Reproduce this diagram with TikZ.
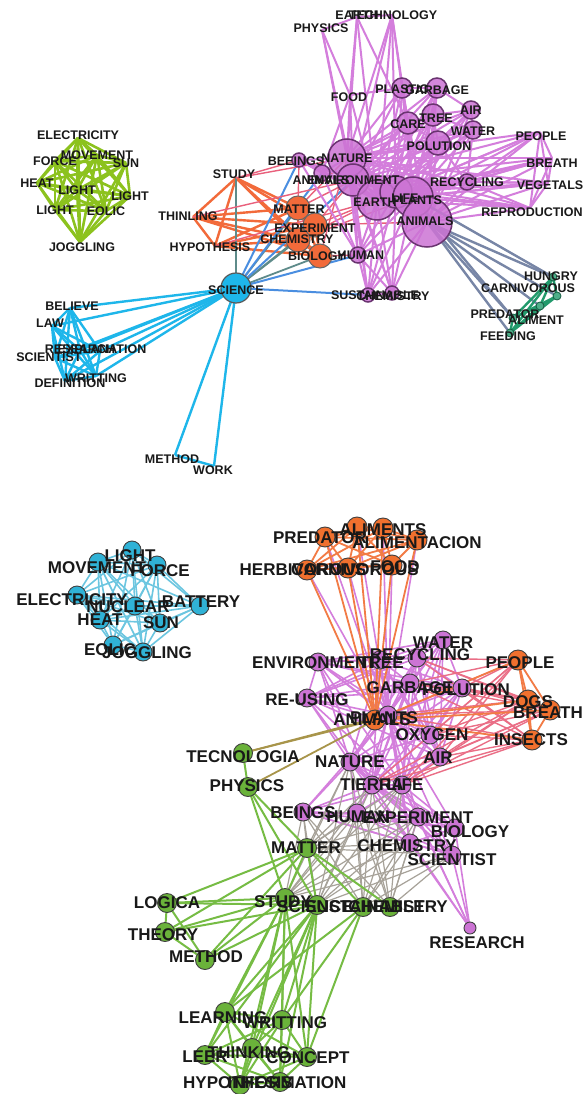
\documentclass[tikz,border=0pt]{standalone}
\usepackage{fontspec}
\setmainfont{Liberation Sans}
\definecolor{tgreen}{HTML}{8CC21E}
\definecolor{tcyan}{HTML}{1EB6EA}
\definecolor{torange}{HTML}{F26A3A}
\definecolor{tpurple}{HTML}{D47EDC}
\definecolor{pfill}{HTML}{CC74D4}
\definecolor{pdraw}{HTML}{6A3470}
\definecolor{dgreen}{HTML}{229A6C}
\definecolor{gblue}{HTML}{7886A6}
\definecolor{sblue}{HTML}{4A8EE0}
\definecolor{tealg}{HTML}{5E8B8A}
\definecolor{pinkred}{HTML}{E9607C}
\definecolor{bcyan}{HTML}{30B2D6}
\definecolor{bcyanE}{HTML}{6CC6E0}
\definecolor{borange}{HTML}{F0702E}
\definecolor{borangeE}{HTML}{F27B45}
\definecolor{bgreen}{HTML}{6AB23A}
\definecolor{bgreenE}{HTML}{76BC44}
\definecolor{bgray}{HTML}{A7A299}
\definecolor{olivee}{HTML}{A8954A}
\definecolor{bpink}{HTML}{EA6E86}
\newcommand\mkclique[3]{\foreach \i in {1,...,#2}{\foreach \j in {1,...,#2}{\ifnum\i<\j \draw[#3] (#1\i) -- (#1\j);\fi}}}
\begin{document}
\begin{tikzpicture}[x=1pt,y=-1pt,
  lt/.style={font=\bfseries\fontsize{12.5}{12.5}\selectfont, inner sep=0, text=black!90},
  lb/.style={font=\bfseries\fontsize{17}{17}\selectfont, inner sep=0, text=black!90},
  vc/.style={circle, inner sep=0, minimum size=#1},
  tpc/.style={vc=#1, fill=pfill, fill opacity=0.85, draw=pdraw, draw opacity=1, line width=1.5pt},
  toc/.style={vc=#1, fill=torange, draw=black!60, line width=1pt},
  tcc/.style={vc=#1, fill=tcyan, draw=black!65, line width=1.2pt},
  tkc/.style={vc=#1, fill=dgreen!80, draw=dgreen!60!black, line width=0.8pt},
  bcc/.style={vc=18pt, fill=bcyan, draw=black!75, line width=0.9pt},
  boc/.style={vc=20pt, fill=borange, draw=black!75, line width=0.9pt},
  bpc/.style={vc=18pt, fill=pfill, draw=black!75, line width=0.9pt},
  bgc/.style={vc=19pt, fill=bgreen, draw=black!75, line width=0.9pt},
  eTG/.style={draw=tgreen, line width=2.6pt},
  eTC/.style={draw=tcyan, line width=2.4pt},
  eTO/.style={draw=torange, line width=2.4pt},
  eTP/.style={draw=tpurple, line width=2pt},
  eDG/.style={draw=dgreen, line width=2.4pt},
  eGB/.style={draw=gblue, line width=2.4pt},
  eSB/.style={draw=sblue, line width=2pt},
  eTL/.style={draw=tealg, line width=1.8pt},
  ePR/.style={draw=pinkred, line width=1.4pt},
  eBC/.style={draw=bcyanE, line width=1.6pt},
  eBO/.style={draw=borangeE, line width=1.8pt},
  eBP/.style={draw=tpurple, line width=1.6pt},
  eBG/.style={draw=bgreenE, line width=2pt},
  eGR/.style={draw=bgray, line width=1.2pt},
  eOL/.style={draw=olivee, line width=1.8pt},
  eBK/.style={draw=bpink, line width=1.4pt}]
\fill[white] (0,0) rectangle (586,1094);
\useasboundingbox (0,0) rectangle (586,1094);
% ---------------- TOP coordinates
\coordinate (tg1) at (78,138); \coordinate (tg2) at (55,161); \coordinate (tg3) at (97,155);
\coordinate (tg4) at (126,163); \coordinate (tg5) at (37,183); \coordinate (tg6) at (77,190);
\coordinate (tg7) at (130,196); \coordinate (tg8) at (55,210); \coordinate (tg9) at (106,211);
\coordinate (tg10) at (80,242);
\coordinate (tSci) at (236,288);
\coordinate (tc1) at (70,308); \coordinate (tc2) at (52,326); \coordinate (tc3) at (100,351);
\coordinate (tc4) at (80,350); \coordinate (tc5) at (55,358); \coordinate (tc6) at (96,376);
\coordinate (tc7) at (65,381); \coordinate (tc8) at (175,455); \coordinate (tc9) at (214,466);
\coordinate (to1) at (236,178); \coordinate (to2) at (193,217); \coordinate (to3) at (215,246);
\coordinate (to4) at (298,208); \coordinate (to5) at (315,225); \coordinate (to6) at (298,240);
\coordinate (to7) at (320,256);
\coordinate (tp1) at (347,158); \coordinate (tp2) at (299,160); \coordinate (tp3) at (322,173);
\coordinate (tp4) at (353,180); \coordinate (tp5) at (377,200); \coordinate (tp6) at (396,192);
\coordinate (tp7) at (413,197); \coordinate (tp8) at (427,222); \coordinate (tp9) at (358,255);
\coordinate (tm1) at (402,88); \coordinate (tm2) at (437,88); \coordinate (tm3) at (471,110);
\coordinate (tm4) at (408,123); \coordinate (tm5) at (433,115); \coordinate (tm6) at (473,130);
\coordinate (tm7) at (438,143); \coordinate (tm8) at (467,182);
\coordinate (tu1) at (322,30); \coordinate (tu2) at (357,17); \coordinate (tu3) at (392,15);
\coordinate (tu4) at (350,95);
\coordinate (tr1) at (540,132); \coordinate (tr2) at (552,158); \coordinate (tr3) at (548,183);
\coordinate (tr4) at (530,208);
\coordinate (td1) at (368,295); \coordinate (td2) at (392,293);
\coordinate (tk1) at (553,277); \coordinate (tk2) at (557,296); \coordinate (tk3) at (540,306);
\coordinate (tk4) at (513,318); \coordinate (tk5) at (510,333);
% ---------------- BOTTOM coordinates
\coordinate (bc1) at (132,550); \coordinate (bc2) at (98,562); \coordinate (bc3) at (157,565);
\coordinate (bc4) at (77,595); \coordinate (bc5) at (135,606); \coordinate (bc6) at (200,606);
\coordinate (bc7) at (100,620); \coordinate (bc8) at (160,623); \coordinate (bc9) at (113,645);
\coordinate (bc10) at (143,652);
\coordinate (bo1) at (325,537); \coordinate (bo2) at (357,527); \coordinate (bo3) at (383,528);
\coordinate (bo4) at (417,540); \coordinate (bo5) at (307,570); \coordinate (bo6) at (348,568);
\coordinate (bo7) at (392,565);
\coordinate (bA) at (375,720);
\coordinate (br1) at (518,660); \coordinate (br2) at (528,700); \coordinate (br3) at (550,710);
\coordinate (br4) at (532,740);
\coordinate (bp1) at (318,662); \coordinate (bp2) at (380,660); \coordinate (bp3) at (417,658);
\coordinate (bp4) at (443,640); \coordinate (bp5) at (307,698); \coordinate (bp6) at (410,683);
\coordinate (bp7) at (462,688); \coordinate (bp8) at (388,715); \coordinate (bp9) at (430,735);
\coordinate (bp10) at (440,757); \coordinate (bp11) at (350,762); \coordinate (bp12) at (372,785);
\coordinate (bp13) at (402,785);
\coordinate (bq1) at (303,812); \coordinate (bq2) at (357,813); \coordinate (bq3) at (418,817);
\coordinate (bq4) at (455,828); \coordinate (bq5) at (410,843); \coordinate (bq6) at (452,855);
\coordinate (bRes) at (470,928);
\coordinate (bg1) at (243,753); \coordinate (bg2) at (248,787); \coordinate (bg3) at (307,848);
\coordinate (bg4) at (167,903); \coordinate (bg5) at (285,898); \coordinate (bg6) at (317,905);
\coordinate (bg7) at (363,907); \coordinate (bg8) at (390,907); \coordinate (bg9) at (165,932);
\coordinate (bg10) at (205,960);
\coordinate (bl1) at (225,1012); \coordinate (bl2) at (282,1020); \coordinate (bl3) at (205,1055);
\coordinate (bl4) at (252,1048); \coordinate (bl5) at (307,1057); \coordinate (bl6) at (240,1085);
\coordinate (bl7) at (280,1082);
% ================= TOP EDGES
\mkclique{tg}{10}{eTG}
\foreach \i in {1,...,9}{\draw[eTC] (tSci) -- (tc\i);}
\mkclique{tc}{7}{eTC}
\draw[eTC] (tc8) -- (tc9);
\mkclique{to}{7}{eTO}
\foreach \i in {1,4,5,6,7}{\draw[eTL] (tSci) -- (to\i);}
\foreach \a in {tp2,tp3,tp9,td1,tp4}{\draw[eSB] (tSci) -- (\a);}
\foreach \a/\b in {to1/tp2,to1/tp1,to4/tp1,to4/tp4,to4/tp2,to5/tp5,to5/tp8,to6/tp5,to7/tp9,to7/tp1,to2/tp4,to3/tp5,to5/tp4,to6/tp7}{\draw[ePR] (\a) -- (\b);}
\mkclique{tp}{9}{eTP}
\foreach \i in {1,...,8}{\foreach \c in {tp1,tp4,tp5,tp6,tp7,tp8}{\draw[eTP] (tm\i) -- (\c);}}
\foreach \a/\b in {tm1/tm2,tm4/tm5,tm5/tm3,tm5/tm6,tm2/tm5,tm7/tm4,tm7/tm6,tm3/tm6,tm1/tm4,tm2/tm3,tm7/tm5,tm8/tm7,tm8/tm6}{\draw[eTP] (\a) -- (\b);}
\foreach \a/\b in {tu1/tu2,tu2/tu3,tu1/tu4,tu1/tp1,tu1/tp4,tu2/tu4,tu2/tp1,tu2/tp5,tu2/tm4,tu3/tp1,tu3/tm1,tu3/tp4,tu3/tp5,tu3/tm4,tu3/tp6,tu4/tp1,tu4/tp4,tu4/tp5,tu4/tp3,tu4/tm1}{\draw[eTP] (\a) -- (\b);}
\foreach \i in {1,...,4}{\foreach \c in {tp1,tp4,tp5,tp6,tp7,tp8,tm8}{\draw[eTP] (tr\i) -- (\c);}}
\mkclique{tr}{4}{eTP}
\foreach \i in {1,2}{\foreach \c in {tp1,tp4,tp5,tp6,tp7,tp8,tp9}{\draw[eTP] (td\i) -- (\c);}}
\draw[eTP] (td1) -- (td2);
\foreach \i in {1,...,5}{\draw[eGB] (tp8) -- (tk\i);}
\draw[eGB] (tp7) -- (tk1); \draw[eGB] (tp7) -- (tk4);
\mkclique{tk}{5}{eDG}
% ================= BOTTOM EDGES
\mkclique{bc}{10}{eBC}
\mkclique{bp}{13}{eBP}
\mkclique{bq}{6}{eBP}
\foreach \i in {1,...,6}{\foreach \c in {bp8,bp11,bp12,bp13}{\draw[eBP] (bq\i) -- (\c);}}
\foreach \a in {bq3,bq4,bq5,bq6,bp12,bp13}{\draw[eBP] (\a) -- (bRes);}
\foreach \i in {1,...,7}{\draw[eBP] (bo\i) -- (bp8);}
\mkclique{bo}{7}{eBO}
\foreach \i in {1,...,7}{\draw[eBO] (bo\i) -- (bA);}
\foreach \i in {1,...,4}{\foreach \c in {bp3,bp6,bp7,bp8,bp9,bp10,bp12,bp13}{\draw[eBK] (br\i) -- (\c);}}
\foreach \i in {1,...,4}{\draw[eBO] (bA) -- (br\i);}
\mkclique{br}{4}{eBO}
\foreach \a in {bg3,bg5,bg6,bg7,bg8}{\foreach \c in {bq1,bq2,bq3,bq5,bq6,bp11,bp12,bp13}{\draw[eGR] (\a) -- (\c);}}
\draw[eOL] (bg1) -- (bA); \draw[eOL] (bg2) -- (bA); \draw[eOL] (bg1) -- (bp8);
\foreach \a/\b in {bg1/bg2,bg2/bg3,bg2/bg5,bg2/bg6,bg3/bg4,bg3/bg9,bg3/bg5,bg3/bg6,bg3/bg7,bg3/bg8,bg3/bg10,bg4/bg5,bg4/bg6,bg4/bg9,bg4/bg10,bg9/bg10,bg9/bg5,bg9/bg6,bg10/bg5,bg10/bg6,bg5/bg6}{\draw[eBG] (\a) -- (\b);}
\foreach \i in {1,...,7}{\draw[eBG] (bg5) -- (bl\i); \draw[eBG] (bg6) -- (bl\i);}
\foreach \i in {1,2,5}{\draw[eBG] (bg7) -- (bl\i);}
\mkclique{bl}{7}{eBG}
% ================= CIRCLES
\node[tcc=30pt] (tSciC) at (tSci) {};
\foreach \n/\r in {to4/24pt,to5/24pt,to6/24pt,to7/24pt}{\node[toc=\r] (\n C) at (\n) {};}
\foreach \n/\r in {tp2/14pt,tp3/16pt,tp9/16pt,td1/14pt,td2/14pt,tm1/20pt,tm2/20pt,tm3/18pt,tm4/22pt,tm5/22pt,tm6/18pt,tm7/24pt,tm8/16pt,tp1/38pt,tp4/32pt,tp5/40pt,tp6/32pt,tp7/40pt,tp8/50pt}{\node[tpc=\r] (\n C) at (\n) {};}
\foreach \n in {tk1,tk2,tk3,tk4,tk5}{\node[tkc=8pt] (\n C) at (\n) {};}
\foreach \i in {1,...,10}{\node[bcc] (bc\i C) at (bc\i) {};}
\foreach \n in {bo1,bo2,bo3,bo4,bo5,bo6,bo7,bA,br1,br2,br3,br4}{\node[boc] (\n C) at (\n) {};}
\foreach \n in {bp1,bp2,bp3,bp4,bp5,bp6,bp7,bp8,bp9,bp10,bp11,bp12,bp13,bq1,bq2,bq3,bq4,bq5,bq6}{\node[bpc] (\n C) at (\n) {};}
\node[bpc, minimum size=12pt] (bResC) at (bRes) {};
\foreach \n in {bg1,bg2,bg3,bg4,bg5,bg6,bg7,bg8,bg9,bg10,bl1,bl2,bl3,bl4,bl5,bl6,bl7}{\node[bgc] (\n C) at (\n) {};}
% ================= TOP LABELS
\node[lt] (L1) at (78,135) {ELECTRICITY};
\node[lt] (L2) at (55,161) {FORCE};
\node[lt] (L3) at (97,155) {MOVEMENT};
\node[lt] (L4) at (126,163) {SUN};
\node[lt] (L5) at (37,183) {HEAT};
\node[lt] (L6) at (77,190) {LIGHT};
\node[lt] (L7) at (130,196) {LIGHT};
\node[lt] (L8) at (55,210) {LIGHT};
\node[lt] (L9) at (106,211) {EOLIC};
\node[lt] (L10) at (82,247) {JOGGLING};
\node[lt] (L11) at (236,290) {SCIENCE};
\node[lt] (L12) at (72,306) {BELIEVE};
\node[lt] (L13) at (50,323) {LAW};
\node[lt] (L14) at (80,349) {RESEARCH};
\node[lt] (L15) at (102,349) {EXPLANATION};
\node[lt] (L16) at (49,357) {SCIENTIST};
\node[lt] (L17) at (96,378) {WRITTING};
\node[lt] (L18) at (70,383) {DEFINITION};
\node[lt] (L19) at (172,459) {METHOD};
\node[lt] (L20) at (213,470) {WORK};
\node[lt] (L21) at (234,174) {STUDY};
\node[lt] (L22) at (188,216) {THINLING};
\node[lt] (L23) at (210,247) {HYPOTHESIS};
\node[lt] (L24) at (299,209) {MATTER};
\node[lt] (L25) at (315,228) {EXPERIMENT};
\node[lt] (L26) at (297,239) {CHEMISTRY};
\node[lt] (L27) at (317,256) {BIOLOGY};
\node[lt] (L28) at (361,255) {HUMAN};
\node[lt] (L29) at (296,161) {BEEINGS};
\node[lt] (L30) at (347,158) {NATURE};
\node[lt] (L31) at (321,180) {ANIMALS};
\node[lt] (L32) at (353,180) {ENVIRONMENT};
\node[lt] (L33) at (375,202) {EARTH};
\node[lt] (L34) at (405,198) {LIFE};
\node[lt] (L35) at (417,200) {PLANTS};
\node[lt] (L36) at (425,221) {ANIMALS};
\node[lt] (L37) at (467,182) {RECYCLING};
\node[lt] (L38) at (552,163) {BREATH};
\node[lt] (L39) at (550,185) {VEGETALS};
\node[lt] (L40) at (532,212) {REPRODUCTION};
\node[lt] (L41) at (551,276) {HUNGRY};
\node[lt] (L42) at (528,288) {CARNIVOROUS};
\node[lt] (L43) at (505,314) {PREDATOR};
\node[lt] (L44) at (536,320) {ALIMENT};
\node[lt] (L45) at (508,336) {FEEDING};
\node[lt] (L46) at (375,295) {SUSTAINABLE};
\node[lt] (L47) at (393,296) {CHEMISTRY};
\node[lt] (L48) at (321,28) {PHYSICS};
\node[lt] (L49) at (357,15) {EARTH};
\node[lt] (L50) at (393,15) {TECHNOLOGY};
\node[lt] (L51) at (349,97) {FOOD};
\node[lt] (L52) at (402,89) {PLASTIC};
\node[lt] (L53) at (437,90) {GARBAGE};
\node[lt] (L54) at (471,110) {AIR};
\node[lt] (L55) at (408,124) {CARE};
\node[lt] (L56) at (436,118) {TREE};
\node[lt] (L57) at (473,131) {WATER};
\node[lt] (L58) at (439,146) {POLUTION};
\node[lt] (L59) at (541,136) {PEOPLE};
% ================= BOTTOM LABELS
\node[lb] (M1) at (130,556) {LIGHT};
\node[lb] (M2) at (97,568) {MOVEMENT};
\node[lb] (M3) at (160,571) {FORCE};
\node[lb] (M4) at (72,600) {ELECTRICITY};
\node[lb] (M5) at (128,607) {NUCLEAR};
\node[lb] (M6) at (201,602) {BATTERY};
\node[lb] (M7) at (100,620) {HEAT};
\node[lb] (M8) at (161,623) {SUN};
\node[lb] (M9) at (110,650) {EOLIC};
\node[lb] (M10) at (147,653) {JOGGLING};
\node[lb] (M11) at (320,538) {PREDATOR};
\node[lb] (M12) at (383,530) {ALIMENTS};
\node[lb] (M13) at (417,543) {ALIMENTACION};
\node[lb] (M14) at (303,570) {HERBIVOROUS};
\node[lb] (M15) at (355,570) {CARNIVOROUS};
\node[lb] (M16) at (395,567) {FOOD};
\node[lb] (M17) at (315,663) {ENVIRONMENT};
\node[lb] (M18) at (381,663) {TREE};
\node[lb] (M19) at (420,655) {RECYCLING};
\node[lb] (M20) at (443,643) {WATER};
\node[lb] (M21) at (307,700) {RE-USING};
\node[lb] (M22) at (410,688) {GARBAGE};
\node[lb] (M23) at (466,690) {POLUTION};
\node[lb] (M24) at (372,720) {ANIMALS};
\node[lb] (M25) at (384,718) {PLANTS};
\node[lb] (M26) at (432,735) {OXYGEN};
\node[lb] (M27) at (438,758) {AIR};
\node[lb] (M28) at (350,762) {NATURE};
\node[lb] (M29) at (372,785) {TIERRA};
\node[lb] (M30) at (405,785) {LIFE};
\node[lb] (M31) at (303,813) {BEINGS};
\node[lb] (M32) at (358,817) {HUMAN};
\node[lb] (M33) at (418,818) {EXPERIMENT};
\node[lb] (M34) at (470,832) {BIOLOGY};
\node[lb] (M35) at (407,846) {CHEMISTRY};
\node[lb] (M36) at (452,860) {SCIENTIST};
\node[lb] (M37) at (477,943) {RESEARCH};
\node[lb] (M38) at (520,663) {PEOPLE};
\node[lb] (M39) at (528,702) {DOGS};
\node[lb] (M40) at (548,713) {BREATH};
\node[lb] (M41) at (531,740) {INSECTS};
\node[lb] (M42) at (243,757) {TECNOLOGIA};
\node[lb] (M43) at (247,786) {PHYSICS};
\node[lb] (M44) at (306,848) {MATTER};
\node[lb] (M45) at (167,903) {LOGICA};
\node[lb] (M46) at (283,902) {STUDY};
\node[lb] (M47) at (315,907) {SCIENCE};
\node[lb] (M48) at (365,907) {SUSTAINABLE};
\node[lb] (M49) at (398,907) {CHEMISTRY};
\node[lb] (M50) at (163,935) {THEORY};
\node[lb] (M51) at (206,957) {METHOD};
\node[lb] (M52) at (223,1018) {LEARNING};
\node[lb] (M53) at (285,1023) {WRITTING};
\node[lb] (M54) at (205,1057) {LEER};
\node[lb] (M55) at (249,1053) {THINKING};
\node[lb] (M56) at (308,1058) {CONCEPT};
\node[lb] (M57) at (238,1083) {HYPOTHESIS};
\node[lb] (M58) at (287,1083) {INFORMATION};
\end{tikzpicture}
\end{document}
